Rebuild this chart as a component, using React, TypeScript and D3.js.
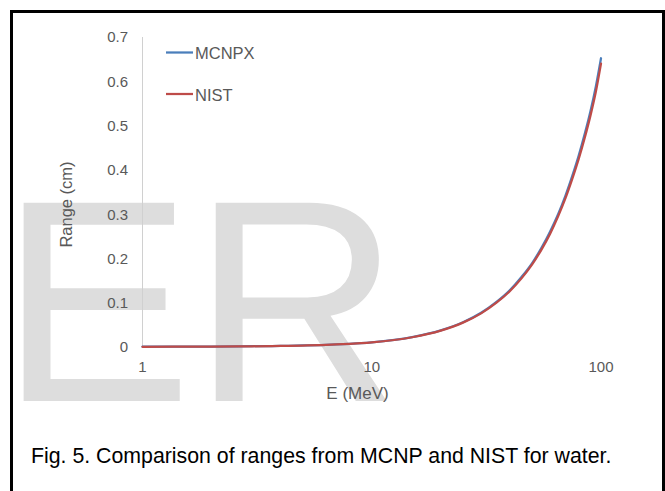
import React from 'react'
import * as d3 from 'd3'

// energies (MeV) and ranges (cm)
const energies = [1, 2, 3, 4, 5, 6, 7, 8, 9, 10, 15, 20, 25, 30, 35, 40, 45, 50, 55, 60, 65, 70, 75, 80, 85, 90, 95, 100]
const mcnpx = [0.0006, 0.0011, 0.0017, 0.0025, 0.0034, 0.0045, 0.0058, 0.0072, 0.0088, 0.0107, 0.0224, 0.0376, 0.0558, 0.0772, 0.1017, 0.128, 0.158, 0.189, 0.224, 0.261, 0.3, 0.342, 0.387, 0.433, 0.482, 0.533, 0.589, 0.652]
const nist = [0.0005, 0.001, 0.0016, 0.0024, 0.0033, 0.0044, 0.0057, 0.0071, 0.0087, 0.0105, 0.022, 0.037, 0.055, 0.076, 0.1, 0.126, 0.155, 0.186, 0.22, 0.256, 0.295, 0.336, 0.38, 0.425, 0.473, 0.523, 0.577, 0.64]
const yTicks = [0, 0.1, 0.2, 0.3, 0.4, 0.5, 0.6, 0.7]
const xTicks = [1, 10, 100]
const seriesNames = ['MCNPX', 'NIST']
const colors = ['#4a7ebb', '#be4b48']

const App = () => {
    const svgRef = React.useRef<SVGSVGElement>(null)

    React.useEffect(() => {
        const width = 665
        const height = 491
        const svg = d3.select(svgRef.current)
        svg.selectAll('*').remove()

        const font = '"Liberation Sans", Arial, sans-serif'
        const gray = '#595959'

        svg.append('rect').attr('width', width).attr('height', height).attr('fill', 'white')

        // watermark
        svg.append('text')
            .attr('x', 0)
            .attr('y', 401)
            .style('font-family', font)
            .style('font-size', '288px')
            .attr('fill', '#dddddd')
            .text('ER')

        // frame
        svg.append('rect')
            .attr('x', 11.5)
            .attr('y', 11.5)
            .attr('width', 652)
            .attr('height', 520)
            .attr('fill', 'none')
            .attr('stroke', 'black')
            .attr('stroke-width', 3)

        const xScale = d3.scaleLog().domain([1, 100]).range([142.5, 601])
        const yScale = d3.scaleLinear().domain([0, 0.7]).range([347, 37])

        const g = svg.append('g')

        // y-axis line
        g.append('line')
            .attr('x1', xScale(1))
            .attr('x2', xScale(1))
            .attr('y1', yScale(0.7))
            .attr('y2', yScale(0))
            .attr('stroke', '#d0d0d0')
            .attr('stroke-width', 1)

        g.selectAll('.y-label')
            .data(yTicks)
            .enter()
            .append('text')
            .attr('class', 'y-label')
            .attr('x', 128)
            .attr('y', (d) => yScale(d))
            .attr('dy', '0.36em')
            .style('text-anchor', 'end')
            .style('font-family', font)
            .style('font-size', '15px')
            .attr('fill', gray)
            .text((d) => String(d))

        g.selectAll('.x-label')
            .data(xTicks)
            .enter()
            .append('text')
            .attr('class', 'x-label')
            .attr('x', (d) => xScale(d))
            .attr('y', 372)
            .style('text-anchor', 'middle')
            .style('font-family', font)
            .style('font-size', '15px')
            .attr('fill', gray)
            .text((d) => String(d))

        g.append('text')
            .attr('x', 357.5)
            .attr('y', 399)
            .style('text-anchor', 'middle')
            .style('font-family', font)
            .style('font-size', '17px')
            .attr('fill', gray)
            .text('E (MeV)')

        g.append('text')
            .attr('transform', 'translate(72,204.5) rotate(-90)')
            .style('text-anchor', 'middle')
            .style('font-family', font)
            .style('font-size', '16.5px')
            .attr('fill', gray)
            .text('Range (cm)')

        const line = d3
            .line<number>()
            .x((d, i) => xScale(energies[i]))
            .y((d) => yScale(d))
            .curve(d3.curveMonotoneX)

        ;[mcnpx, nist].forEach((s, i) => {
            g.append('path')
                .datum(s)
                .attr('d', line)
                .attr('fill', 'none')
                .attr('stroke', colors[i])
                .attr('stroke-width', 2.25)
                .attr('stroke-linecap', 'round')
        })

        // legend
        const legend = g.selectAll('.legend').data(seriesNames).enter().append('g').attr('class', 'legend')
        legend
            .append('line')
            .attr('x1', 166)
            .attr('x2', 193)
            .attr('y1', (d, i) => 52.5 + i * 41.5)
            .attr('y2', (d, i) => 52.5 + i * 41.5)
            .attr('stroke', (d, i) => colors[i])
            .attr('stroke-width', 2.25)
        legend
            .append('text')
            .attr('x', 195)
            .attr('y', (d, i) => 59 + i * 41.5)
            .style('font-family', font)
            .style('font-size', '16.5px')
            .attr('fill', gray)
            .text((d) => d)

        // caption
        svg.append('text')
            .attr('x', 31)
            .attr('y', 463)
            .style('font-family', font)
            .style('font-size', '21.3px')
            .attr('fill', 'black')
            .text('Fig. 5. Comparison of ranges from MCNP and NIST for water.')
    }, [])

    return (
        <div style={{ position: 'absolute', left: 0, top: 0, width: 665, height: 491, overflow: 'hidden' }}>
            <svg ref={svgRef} width={665} height={491} style={{ display: 'block' }}></svg>
        </div>
    )
}

export default App
